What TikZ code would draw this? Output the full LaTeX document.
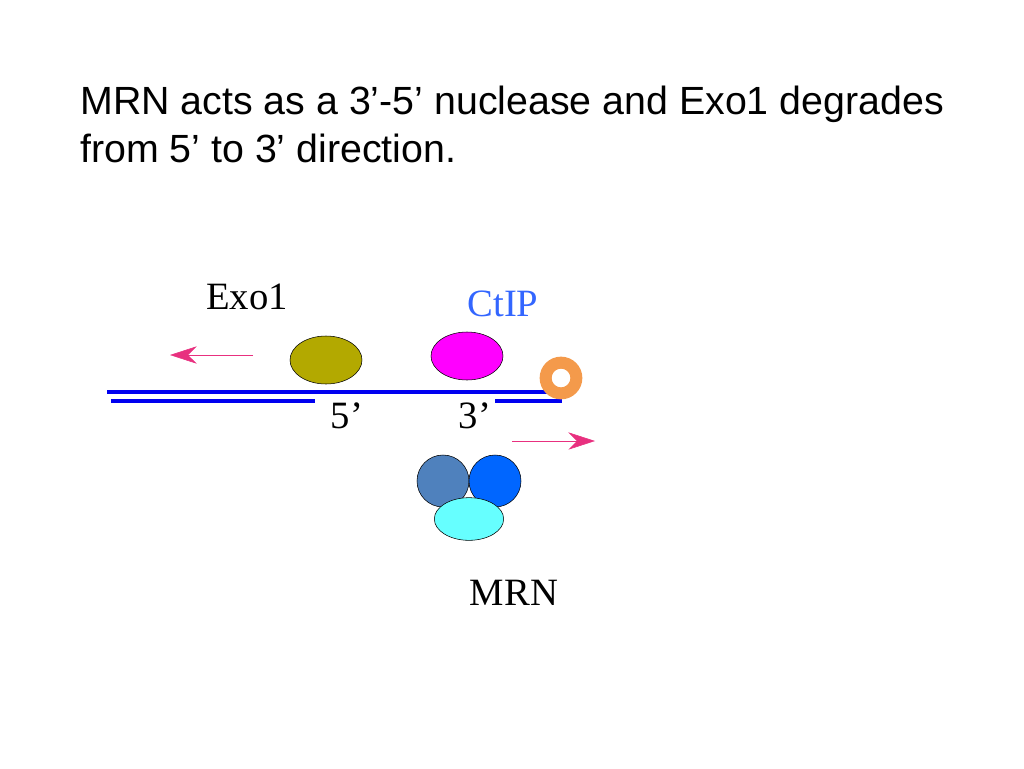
\documentclass[tikz,border=0pt]{standalone}
\usepackage{fontspec}
\setmainfont{Liberation Serif}
\newfontfamily\titlefont{Liberation Sans}
\usetikzlibrary{arrows.meta,shapes.geometric}
\definecolor{strandblue}{HTML}{0000F0}
\definecolor{exoolive}{HTML}{B3A900}
\definecolor{ctipmagenta}{HTML}{FF00FF}
\definecolor{ringorange}{HTML}{F49A4B}
\definecolor{arrowpink}{HTML}{E8307F}
\definecolor{mreblue}{HTML}{4F81BD}
\definecolor{radblue}{HTML}{0066FF}
\definecolor{nbscyan}{HTML}{66FFFF}
\definecolor{ctipblue}{HTML}{3366FF}
\begin{document}
\begin{tikzpicture}[x=0.75pt, y=-0.75pt,
    strand/.style = {strandblue, line width=3pt},
    protein/.style = {draw, thin, inner sep=0pt},
    move/.style = {arrowpink, thin, -{Stealth[length=20pt,width=13pt]}},
    lbl/.style = {font=\fontsize{29}{33}\selectfont}]
    \useasboundingbox (0,0) rectangle (1024,768);
    \node[anchor=north west, align=left, inner sep=0pt, font=\titlefont\fontsize{29.5}{36}\selectfont] (title) at (80,86) {MRN acts as a 3’-5’ nuclease and Exo1 degrades\\from 5’ to 3’ direction.};
    % DNA
    \coordinate (top1) at (107,392);
    \coordinate (top2) at (550,392);
    \coordinate (bl1) at (111,401);
    \coordinate (bl2) at (315,401);
    \coordinate (br1) at (495,401);
    \coordinate (br2) at (562,401);
    \draw[strand] (top1) -- (top2);
    \draw[strand] (bl1) -- (bl2);
    \draw[strand] (br1) -- (br2);
    % proteins
    \node[protein, ellipse, fill=exoolive, minimum width=54pt, minimum height=36pt] (exo) at (326,360) {};
    \node[protein, ellipse, fill=ctipmagenta, minimum width=54pt, minimum height=36pt] (ctip) at (467,356) {};
    \node[circle, draw=ringorange, line width=9pt, minimum size=23pt, inner sep=0pt] (ring) at (561,378) {};
    \node[protein, circle, fill=mreblue, minimum size=39pt] (mre) at (443,481) {};
    \node[protein, circle, fill=radblue, minimum size=39pt] (rad) at (495,481) {};
    \node[protein, ellipse, fill=nbscyan, minimum width=52pt, minimum height=32pt] (nbs) at (469,519) {};
    % arrows
    \coordinate (la1) at (253,355);
    \coordinate (la2) at (170,355);
    \coordinate (ra1) at (512,441);
    \coordinate (ra2) at (595,441);
    \draw[move] (la1) -- (la2);
    \draw[move] (ra1) -- (ra2);
    % labels
    \node[lbl] (exolbl) at (247,297) {Exo1};
    \node[lbl, text=ctipblue] (ctiplbl) at (503,304) {CtIP};
    \node[lbl] (five) at (347,416) {5’};
    \node[lbl] (three) at (475,416) {3’};
    \node[lbl] (mrnlbl) at (514,593) {MRN};
\end{tikzpicture}
\end{document}
